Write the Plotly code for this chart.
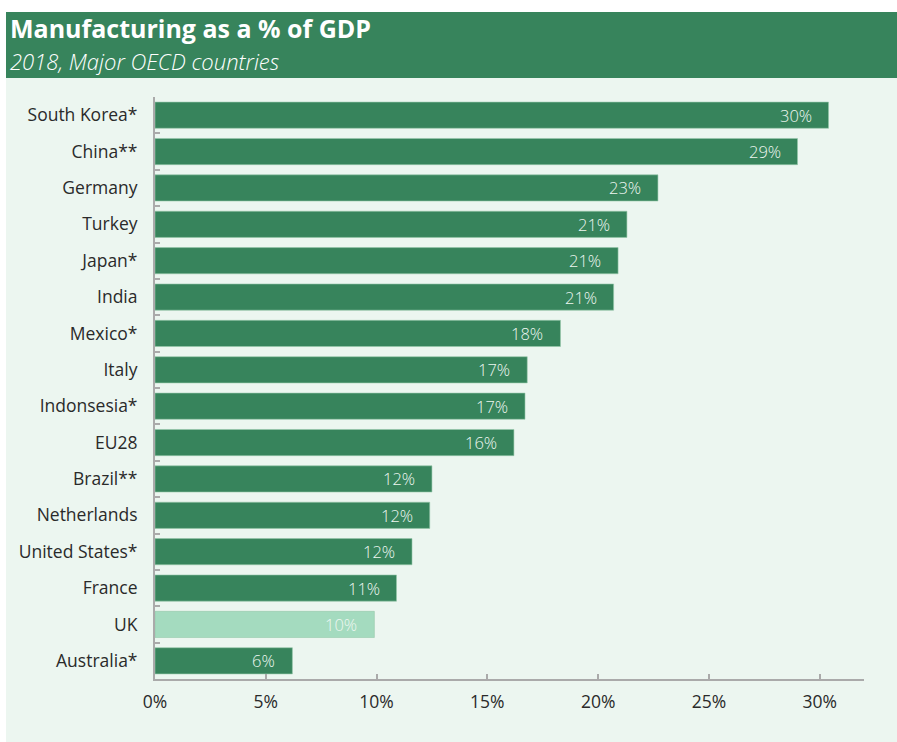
import plotly.graph_objects as go

# Manufacturing value added as a share of GDP, 2018
countries = ["South Korea*", "China**", "Germany", "Turkey", "Japan*", "India",
             "Mexico*", "Italy", "Indonsesia*", "EU28", "Brazil**", "Netherlands",
             "United States*", "France", "UK", "Australia*"]
share = [30.4, 29.0, 22.7, 21.3, 20.9, 20.7, 18.3, 16.8, 16.7, 16.2,
         12.5, 12.4, 11.6, 10.9, 9.9, 6.2]
highlight = "UK"

DARK = "#37845C"
LIGHT = "#A4DBBF"
MINT = "#ECF6F0"
FONT = "Open Sans"

W, H = 897, 742
L, R, T, B = 155, 33, 97, 63
pw, ph = W - L - R, H - T - B


def px_x(p):
    return (p - L) / pw


def px_y(p):
    return (H - B - p) / ph


colors = [LIGHT if c == highlight else DARK for c in countries]

fig = go.Figure()
fig.add_trace(go.Bar(
    x=share, y=countries, orientation="h",
    marker=dict(color=colors, line=dict(color="rgba(150,200,170,0.6)", width=1)),
    hoverinfo="skip",
))

# value labels inside the end of each bar
for c, v in zip(countries, share):
    fig.add_annotation(
        x=v, y=c, xref="x", yref="y", text=f"{v:.0f}%",
        showarrow=False, xanchor="right", xshift=-15,
        font=dict(family=FONT, size=16.5, color="#EEF7F1", weight=300),
    )

# header band and panel background
fig.add_shape(type="rect", xref="paper", yref="paper", layer="below",
              x0=px_x(6), x1=px_x(W), y0=px_y(H), y1=px_y(78),
              fillcolor=MINT, line_width=0)
fig.add_shape(type="rect", xref="paper", yref="paper", layer="below",
              x0=px_x(6), x1=px_x(W), y0=px_y(78), y1=px_y(12),
              fillcolor=DARK, line_width=0)

fig.add_annotation(xref="paper", yref="paper", x=px_x(8), y=px_y(28),
                   xanchor="left", yanchor="middle", showarrow=False,
                   text="<b>Manufacturing as a % of GDP</b>",
                   font=dict(family=FONT, size=25, color="white"))
fig.add_annotation(xref="paper", yref="paper", x=px_x(8), y=px_y(61),
                   xanchor="left", yanchor="middle", showarrow=False,
                   text="<i>2018, Major OECD countries</i>",
                   font=dict(family=FONT, size=22, color="white", weight=300))

fig.update_layout(
    width=W, height=H,
    margin=dict(l=L, r=R, t=T, b=B),
    paper_bgcolor="white", plot_bgcolor="rgba(0,0,0,0)",
    bargap=0.28, showlegend=False,
    font=dict(family=FONT, size=17.5, color="#222222"),
)
fig.update_xaxes(
    range=[0, 32], dtick=5, tick0=0, ticksuffix="%",
    showgrid=False, zeroline=False,
    showline=True, linecolor="#AAAAAA", linewidth=2,
    ticks="inside", ticklen=5, tickcolor="#AAAAAA", tickwidth=2,
    tickfont=dict(family=FONT, size=17.5, color="#2A2A2A"),
    ticklabelstandoff=6,
)
fig.update_yaxes(
    categoryorder="array", categoryarray=countries, autorange="reversed",
    showgrid=False, zeroline=False,
    showline=True, linecolor="#AAAAAA", linewidth=2,
    ticks="inside", tickson="boundaries", ticklen=5, tickcolor="#AAAAAA", tickwidth=2,
    tickfont=dict(family=FONT, size=17.5, color="#2A2A2A"),
    ticklabelstandoff=12,
)

fig.write_html("out.html")
